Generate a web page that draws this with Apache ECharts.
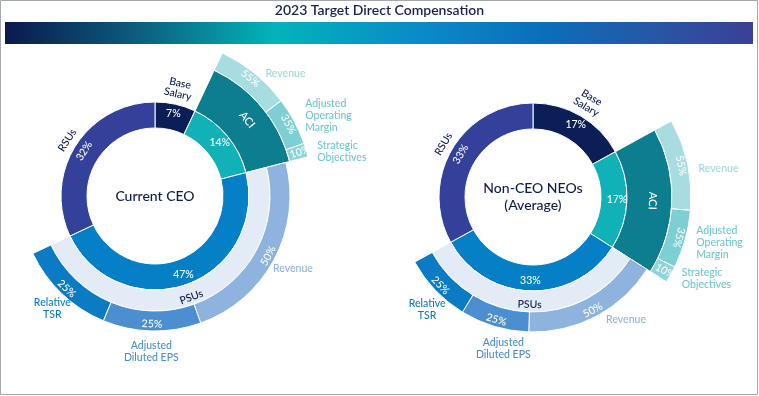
<!DOCTYPE html>
<html><head><meta charset="utf-8">
<script src="https://cdn.jsdelivr.net/npm/echarts@6/dist/echarts.min.js"></script>
<style>html,body{margin:0;padding:0;background:#fff}#c{width:759px;height:396px}</style>
</head><body><div id="c"></div>
<script>
// ---------- data ----------
const pageTitle = '2023 Target Direct Compensation';
const componentNames = ['Base Salary', 'ACI', 'PSUs', 'RSUs'];
const panelNames = ['Current CEO', 'Non-CEO NEOs\n(Average)'];
const ceoShares = [7, 14, 47, 32];
const neoShares = [17, 17, 33, 33];
const aciMetrics = ['Revenue', 'Adjusted\nOperating\nMargin', 'Strategic\nObjectives'];
const aciWeights = [55, 35, 10];
const psuMetrics = ['Revenue', 'Adjusted\nDiluted EPS', 'Relative\nTSR'];
const psuWeights = [50, 25, 25];

// ---------- style / layout ----------
const FONT = 'Lato, "Noto Sans", sans-serif';
const FS = 10.5;
const C = {
  comp: ['#0b1f56', '#10b2b8', '#0580c6', '#34419a'],
  aciBand: '#0c7e90', psuBand: '#e2ebf6',
  aciSub: ['#a7dce0', '#7ecfd3', '#8dd5d8'],
  psuSub: ['#8db3de', '#4b8fd0', '#0b7cc3'],
  aciText: ['#9fd8dc', '#6fc7cd', '#6fc7cd'],
  psuText: ['#8db3de', '#4b8fd0', '#0b7cc3'],
  navy: '#0f1d4b'
};
const R = { in: 68, out: 94, psuBand: 115, psuSub: 135, aciBand: 139, aciSub: 158 };
const panels = [
  { values: ceoShares, name: panelNames[0], center: [155, 196], psuModes: ['ring', 'ring', 'ring'],
    aciNudge: [[0, 0], [0, -6], [0, 2]], psuNudge: [[0, 0], [0, 0], [5, 0]] },
  { values: neoShares, name: panelNames[1], center: [533, 197], psuModes: ['outside', 'ring', 'ring'],
    aciNudge: [[0, 4], [0, 3], [0, 4]], psuNudge: [[0, 2], [15, 2], [7, 5]] }
];

function norm(t) { return ((t % 360) + 360) % 360; }
function rotTan(t) { t = norm(t); if (t > 90 && t < 270) return 180 - t; return t <= 90 ? -t : 360 - t; }
function rotTanNoFlip(t) { return -t; }
function rotRad(t) { t = norm(t); return t < 180 ? 90 - t : 270 - t; }

const baseLabel = { fontFamily: FONT, fontSize: FS, fontWeight: 500, color: '#fff' };
function item(value, color, label) {
  return {
    value: value,
    itemStyle: color ? { color: color, borderColor: '#fff', borderWidth: 1 } : { color: 'transparent', borderWidth: 0 },
    label: label ? Object.assign({ show: true }, baseLabel, label) : { show: false }
  };
}
function nudger(list, first) {
  return function (params) {
    const n = list[params.dataIndex - first];
    const out = { hideOverlap: false, moveOverlap: null };
    if (n) { out.dx = n[0]; out.dy = n[1]; }
    return out;
  };
}
function pie(center, radius, data, extra) {
  return Object.assign({
    type: 'pie', center: center, radius: radius, startAngle: 90, clockwise: true,
    avoidLabelOverlap: false, silent: true, animation: false,
    emphasis: { disabled: true },
    labelLayout: { hideOverlap: false },
    label: { show: false }, labelLine: { show: false, length: 0, length2: 0 },
    data: data
  }, extra || {});
}

const series = [];
panels.forEach(function (p) {
  const v = p.values;
  const total = v.reduce(function (a, b) { return a + b; }, 0);
  const deg = function (x) { return x / total * 360; };
  const starts = []; let acc = 0;
  v.forEach(function (x) { starts.push(acc); acc += x; });
  const mid = v.map(function (x, i) { return deg(starts[i] + x / 2); });

  // inner ring
  series.push(pie(p.center, [R.in, R.out], v.map(function (x, i) {
    return item(x, C.comp[i], { position: 'inside', formatter: x + '%', rotate: i === 3 ? rotTan(mid[i]) : 0 });
  })));

  // ACI band
  series.push(pie(p.center, [R.out, R.aciBand], v.map(function (x, i) {
    return i === 1 ? item(x, C.aciBand, { position: 'inside', formatter: 'ACI', fontSize: 11, rotate: rotTanNoFlip(mid[i]) }) : item(x, null);
  })));
  // PSU band
  series.push(pie(p.center, [R.out, R.psuBand], v.map(function (x, i) {
    return i === 2 ? item(x, C.psuBand, { position: 'inside', formatter: 'PSUs', rotate: rotTan(mid[i]), color: C.navy }) : item(x, null);
  })));

  // ACI metrics
  const aciData = [], aciNameData = [];
  v.forEach(function (x, i) {
    if (i !== 1) { aciData.push(item(x, null)); aciNameData.push(item(x, null)); return; }
    let a = 0;
    aciWeights.forEach(function (w, k) {
      const val = x * w / 100;
      const m = deg(starts[i] + a + val / 2);
      a += val;
      aciData.push(item(val, C.aciSub[k], { position: 'inside', formatter: w + '%', rotate: k < 2 ? rotTanNoFlip(m) : rotRad(m) }));
      aciNameData.push(item(val, null, { position: 'outside', formatter: aciMetrics[k], color: C.aciText[k], lineHeight: 12, distanceToLabelLine: 5 }));
    });
  });
  series.push(pie(p.center, [R.aciBand, R.aciSub], aciData));
  series.push(pie(p.center, [R.aciBand, R.aciSub], aciNameData, {
    labelLine: { show: false, length: 0, length2: 6 }, labelLayout: nudger(p.aciNudge, 1) }));

  // PSU metrics
  const psuData = [], psuRing = [], psuOut = [];
  v.forEach(function (x, i) {
    if (i !== 2) { psuData.push(item(x, null)); psuRing.push(item(x, null)); psuOut.push(item(x, null)); return; }
    let a = 0;
    psuWeights.forEach(function (w, k) {
      const val = x * w / 100;
      const m = deg(starts[i] + a + val / 2);
      a += val;
      psuData.push(item(val, C.psuSub[k], { position: 'inside', formatter: w + '%', rotate: rotTan(m) }));
      const lab = { formatter: psuMetrics[k], color: C.psuText[k], lineHeight: 12 };
      if (p.psuModes[k] === 'ring') {
        psuRing.push(item(val, null, Object.assign({ position: 'inside', rotate: 0 }, lab)));
        psuOut.push(item(val, null));
      } else {
        psuRing.push(item(val, null));
        psuOut.push(item(val, null, Object.assign({ position: 'outside', distanceToLabelLine: 5 }, lab)));
      }
    });
  });
  series.push(pie(p.center, [R.psuBand, R.psuSub], psuData));
  series.push(pie(p.center, [148, 158], psuRing, { labelLayout: nudger(p.psuNudge, 2) }));
  series.push(pie(p.center, [R.psuBand, R.psuSub], psuOut, {
    labelLine: { show: false, length: 2, length2: 4 }, labelLayout: nudger(p.psuNudge, 2) }));

  // outer names for Base Salary and RSUs
  series.push(pie(p.center, [100, 114], v.map(function (x, i) {
    return i === 0 ? item(x, null, { position: 'inside', formatter: componentNames[i].replace(' ', '\n'), rotate: rotTan(mid[i]), color: C.navy, lineHeight: 11 }) : item(x, null);
  })));
  series.push(pie(p.center, [96, 106], v.map(function (x, i) {
    return i === 3 ? item(x, null, { position: 'inside', formatter: componentNames[i], rotate: rotTan(mid[i]), color: C.navy }) : item(x, null);
  })));
});

const chart = echarts.init(document.getElementById('c'), null, { renderer: 'canvas' });
chart.setOption({
  backgroundColor: '#fff',
  animation: false,
  title: {
    text: pageTitle, left: 'center', top: 3, padding: 0,
    textStyle: { fontFamily: FONT, fontSize: 14, fontWeight: 600, color: '#1b2151' }
  },
  graphic: [
    { type: 'rect', silent: true, shape: { x: 0.5, y: 0.5, width: 757, height: 394 }, style: { fill: 'none', stroke: '#a3a8ad', lineWidth: 1 } },
    { type: 'rect', silent: true, shape: { x: 5, y: 22, width: 748, height: 22 },
      style: { fill: new echarts.graphic.LinearGradient(0, 0, 1, 0, [
        { offset: 0, color: '#0a1a4e' }, { offset: 0.17, color: '#0c5a7c' }, { offset: 0.36, color: '#02b4b9' },
        { offset: 0.55, color: '#0a8bc8' }, { offset: 0.72, color: '#0a6fb9' }, { offset: 0.88, color: '#2955a4' },
        { offset: 1, color: '#3b3f97' }]) } }
  ].concat(panels.map(function (p) {
    return { type: 'text', silent: true, x: p.center[0], y: p.center[1],
      style: { text: p.name, align: 'center', verticalAlign: 'middle', fontFamily: FONT, fontSize: 14, fontWeight: 500, lineHeight: 17, fill: C.navy } };
  })),
  series: series
});
</script>
</body></html>
